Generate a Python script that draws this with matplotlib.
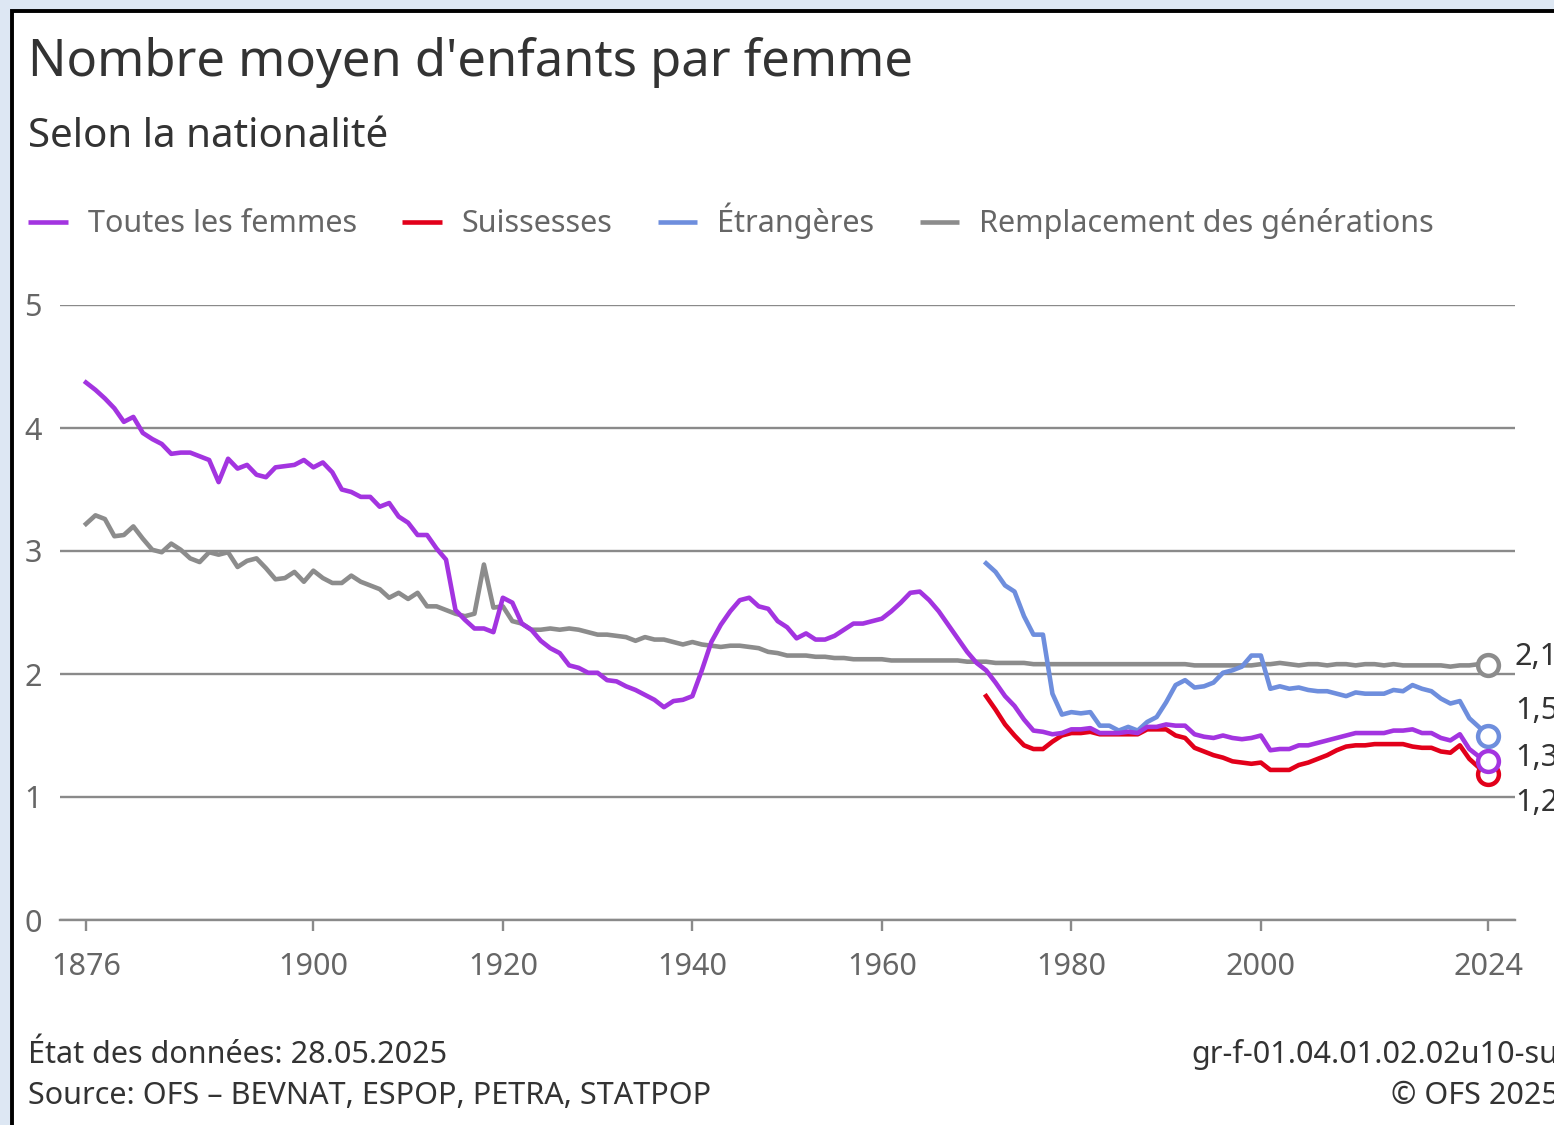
import matplotlib
matplotlib.use('Agg')
import matplotlib.pyplot as plt
from matplotlib.patches import Rectangle
from matplotlib.lines import Line2D
import matplotlib.transforms as mtransforms

plt.rcParams['font.family'] = ['Noto Sans', 'DejaVu Sans']

# ---------------- data ----------------
years_all = list(range(1876, 2025))
years_nat = list(range(1971, 2025))

toutes = [
    4.37, 4.31, 4.24, 4.16, 4.05, 4.09, 3.96, 3.91, 3.87, 3.79,
    3.80, 3.80, 3.77, 3.74, 3.56, 3.75, 3.67, 3.70, 3.62, 3.60,
    3.68, 3.69, 3.70, 3.74, 3.68, 3.72, 3.64, 3.50, 3.48, 3.44,
    3.44, 3.36, 3.39, 3.28, 3.23, 3.13, 3.13, 3.02, 2.93, 2.52,
    2.44, 2.37, 2.37, 2.34, 2.62, 2.58, 2.41, 2.36, 2.27, 2.21,
    2.17, 2.07, 2.05, 2.01, 2.01, 1.95, 1.94, 1.90, 1.87, 1.83,
    1.79, 1.73, 1.78, 1.79, 1.82, 2.03, 2.26, 2.40, 2.51, 2.60,
    2.62, 2.55, 2.53, 2.43, 2.38, 2.29, 2.33, 2.28, 2.28, 2.31,
    2.36, 2.41, 2.41, 2.43, 2.45, 2.51, 2.58, 2.66, 2.67, 2.60,
    2.51, 2.40, 2.29, 2.18, 2.09, 2.03, 1.93, 1.82, 1.74, 1.63,
    1.54, 1.53, 1.51, 1.52, 1.55, 1.55, 1.56, 1.52, 1.52, 1.52,
    1.53, 1.52, 1.57, 1.57, 1.59, 1.58, 1.58, 1.51, 1.49, 1.48,
    1.50, 1.48, 1.47, 1.48, 1.50, 1.38, 1.39, 1.39, 1.42, 1.42,
    1.44, 1.46, 1.48, 1.50, 1.52, 1.52, 1.52, 1.52, 1.54, 1.54,
    1.55, 1.52, 1.52, 1.48, 1.46, 1.51, 1.39, 1.33, 1.29,
]

suissesses = [
    1.82, 1.71, 1.59, 1.50, 1.42, 1.39, 1.39, 1.45, 1.50, 1.52,
    1.52, 1.53, 1.51, 1.51, 1.51, 1.51, 1.51, 1.55, 1.55, 1.55,
    1.50, 1.48, 1.40, 1.37, 1.34, 1.32, 1.29, 1.28, 1.27, 1.28,
    1.22, 1.22, 1.22, 1.26, 1.28, 1.31, 1.34, 1.38, 1.41, 1.42,
    1.42, 1.43, 1.43, 1.43, 1.43, 1.41, 1.40, 1.40, 1.37, 1.36,
    1.42, 1.31, 1.24, 1.19,
]

etrangeres = [
    2.90, 2.83, 2.72, 2.67, 2.47, 2.32, 2.32, 1.84, 1.67, 1.69,
    1.68, 1.69, 1.58, 1.58, 1.54, 1.57, 1.54, 1.61, 1.65, 1.77,
    1.91, 1.95, 1.89, 1.90, 1.93, 2.01, 2.03, 2.06, 2.15, 2.15,
    1.88, 1.90, 1.88, 1.89, 1.87, 1.86, 1.86, 1.84, 1.82, 1.85,
    1.84, 1.84, 1.84, 1.87, 1.86, 1.91, 1.88, 1.86, 1.80, 1.76,
    1.78, 1.64, 1.57, 1.50,
]

remplacement = [
    3.22, 3.29, 3.26, 3.12, 3.13, 3.20, 3.10, 3.01, 2.99, 3.06,
    3.01, 2.94, 2.91, 2.99, 2.97, 2.99, 2.87, 2.92, 2.94, 2.86,
    2.77, 2.78, 2.83, 2.75, 2.84, 2.78, 2.74, 2.74, 2.80, 2.75,
    2.72, 2.69, 2.62, 2.66, 2.61, 2.66, 2.55, 2.55, 2.52, 2.49,
    2.47, 2.49, 2.89, 2.54, 2.55, 2.43, 2.41, 2.36, 2.36, 2.37,
    2.36, 2.37, 2.36, 2.34, 2.32, 2.32, 2.31, 2.30, 2.27, 2.30,
    2.28, 2.28, 2.26, 2.24, 2.26, 2.24, 2.23, 2.22, 2.23, 2.23,
    2.22, 2.21, 2.18, 2.17, 2.15, 2.15, 2.15, 2.14, 2.14, 2.13,
    2.13, 2.12, 2.12, 2.12, 2.12, 2.11, 2.11, 2.11, 2.11, 2.11,
    2.11, 2.11, 2.11, 2.10, 2.10, 2.10, 2.09, 2.09, 2.09, 2.09,
    2.08, 2.08, 2.08, 2.08, 2.08, 2.08, 2.08, 2.08, 2.08, 2.08,
    2.08, 2.08, 2.08, 2.08, 2.08, 2.08, 2.08, 2.07, 2.07, 2.07,
    2.07, 2.07, 2.07, 2.07, 2.08, 2.08, 2.09, 2.08, 2.07, 2.08,
    2.08, 2.07, 2.08, 2.08, 2.07, 2.08, 2.08, 2.07, 2.08, 2.07,
    2.07, 2.07, 2.07, 2.07, 2.06, 2.07, 2.07, 2.08, 2.07,
]

series_labels = ["Toutes les femmes", "Suissesses", "Étrangères",
                 "Remplacement des générations"]
x_ticks = [1876, 1900, 1920, 1940, 1960, 1980, 2000, 2024]
y_ticks = [0, 1, 2, 3, 4, 5]

title = "Nombre moyen d'enfants par femme"
subtitle = "Selon la nationalité"
footer_left = ["État des données: 28.05.2025",
               "Source: OFS – BEVNAT, ESPOP, PETRA, STATPOP"]
footer_right = ["gr-f-01.04.01.02.02u10-su", "© OFS 2025"]

# ---------------- styling ----------------
C_PURPLE = '#a334e0'
C_RED = '#e2001a'
C_BLUE = '#6e8edd'
C_GRAY = '#8c8c8c'
C_GRID = '#8a8a8a'
C_TEXT = '#333333'
C_LIGHT = '#666666'
FS = 22

W, H = 1554, 1125
fig = plt.figure(figsize=(W / 100, H / 100), dpi=100)
fig.patch.set_facecolor('#dde7f3')


def fx(px):
    return px / W


def fy(py):
    return 1 - py / H


# white card with black border
card = Rectangle((fx(12), -0.05), 1.2, fy(11) + 0.05, transform=fig.transFigure,
                 facecolor='white', edgecolor='black', linewidth=2.8, zorder=0)
fig.add_artist(card)

ax = fig.add_axes([fx(60), fy(920), fx(1515) - fx(60), fy(305) - fy(920)])
ax.set_facecolor('none')
ax.set_xlim(1873.26, 2026.82)
ax.set_ylim(0, 5)

for sp in ['top', 'right', 'left']:
    ax.spines[sp].set_visible(False)
ax.spines['bottom'].set_color(C_GRID)
ax.spines['bottom'].set_linewidth(1.7)

ax.set_yticks(y_ticks)
ax.set_yticklabels([str(v) for v in y_ticks])
ax.set_xticks(x_ticks)
ax.set_xticklabels([str(v) for v in x_ticks])
ax.tick_params(axis='y', length=0, pad=13, labelsize=FS, labelcolor=C_LIGHT)
ax.tick_params(axis='x', length=8, width=1.7, color=C_GRID, pad=15,
               labelsize=FS, labelcolor=C_LIGHT)
ax.yaxis.grid(True, color=C_GRID, linewidth=1.7)
ax.set_axisbelow(True)

lw = 3.3
ax.plot(years_all, remplacement, color=C_GRAY, lw=lw, zorder=3, solid_joinstyle='round')
ax.plot(years_nat, etrangeres, color=C_BLUE, lw=lw, zorder=4, solid_joinstyle='round')
ax.plot(years_nat, suissesses, color=C_RED, lw=lw, zorder=5, solid_joinstyle='round')
ax.plot(years_all, toutes, color=C_PURPLE, lw=lw, zorder=6, solid_joinstyle='round')

ends = [(remplacement, years_all, C_GRAY, 2.14),
        (etrangeres, years_nat, C_BLUE, 1.70),
        (suissesses, years_nat, C_RED, 0.95),
        (toutes, years_all, C_PURPLE, 1.32)]
trans = mtransforms.blended_transform_factory(ax.transAxes, ax.transData)
for vals, yrs, col, ylab in ends:
    ax.plot([yrs[-1]], [vals[-1]], 'o', ms=15, mfc='white', mec=col, mew=3.2,
            zorder=7, clip_on=False)
    ax.text(1.0, ylab, f"{vals[-1]:.1f}".replace('.', ','), transform=trans,
            ha='left', va='center', fontsize=FS, color=C_TEXT, clip_on=False)

# legend
handles = [Line2D([], [], color=c, lw=3.3, solid_capstyle='butt')
           for c in [C_PURPLE, C_RED, C_BLUE, C_GRAY]]
fig.legend(handles, series_labels, loc='center left',
           bbox_to_anchor=(fx(28), fy(221)), ncol=4, frameon=False,
           fontsize=FS, labelcolor=C_LIGHT, handlelength=1.3,
           handletextpad=0.66, columnspacing=1.47, borderpad=0,
           borderaxespad=0)

# titles
fig.text(fx(28), fy(76), title, fontsize=36.5, color=C_TEXT, ha='left', va='baseline')
fig.text(fx(28), fy(147), subtitle, fontsize=29, color=C_TEXT, ha='left', va='baseline')

# footer
fig.text(fx(28), fy(1063), footer_left[0], fontsize=FS, color=C_TEXT, ha='left', va='baseline')
fig.text(fx(28), fy(1104), footer_left[1], fontsize=FS, color=C_TEXT, ha='left', va='baseline')
fig.text(fx(1191), fy(1063), footer_right[0], fontsize=FS, color=C_TEXT, ha='left', va='baseline')
fig.text(fx(1391), fy(1104), footer_right[1], fontsize=FS, color=C_TEXT, ha='left', va='baseline')

fig.savefig('out.png', dpi=100, facecolor=fig.get_facecolor())
